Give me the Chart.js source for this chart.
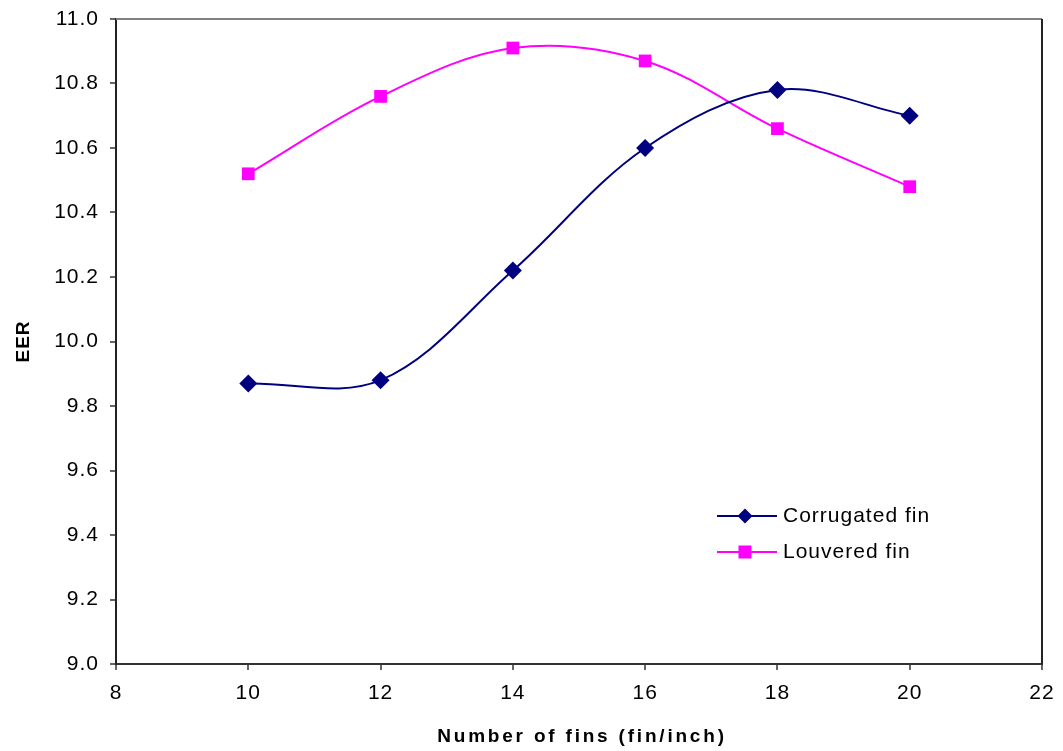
<!DOCTYPE html>
<html>
<head>
<meta charset="utf-8">
<script src="https://cdn.jsdelivr.net/npm/chart.js@4/dist/chart.umd.min.js"></script>
<style>
  html, body { margin: 0; padding: 0; background: #fff; }
  #wrap { width: 1063px; height: 751px; }
</style>
</head>
<body>
<div id="wrap"><canvas id="eerChart" width="1063" height="751"></canvas></div>
<script>
const finsPerInch = [10, 12, 14, 16, 18, 20];
const corrugatedEER = [9.87, 9.88, 10.22, 10.60, 10.78, 10.70];
const louveredEER = [10.52, 10.76, 10.91, 10.87, 10.66, 10.48];
const seriesNames = ['Corrugated fin', 'Louvered fin'];
const xTitle = 'Number of fins (fin/inch)';
const yTitle = 'EER';

const FONT = '"Liberation Sans", Arial, sans-serif';

const toPoints = (ys) => finsPerInch.map((x, i) => ({ x: x, y: ys[i] }));

// slightly loose text spacing for everything the chart writes
const spacing = {
  id: 'spacing',
  beforeDraw(chart) { chart.ctx.letterSpacing = '1px'; },
  afterDraw(chart) { chart.ctx.letterSpacing = '0px'; }
};

// frame, axis titles and the legend box inside the plot
const frameAndLegend = {
  id: 'frameAndLegend',
  afterDatasetsDraw(chart) {
    const { ctx, chartArea: ca } = chart;
    ctx.save();
    ctx.lineWidth = 2;
    ctx.strokeStyle = '#808080';
    ctx.beginPath();
    ctx.moveTo(ca.left, ca.top);
    ctx.lineTo(ca.right, ca.top);
    ctx.stroke();
    ctx.strokeStyle = '#222';
    ctx.beginPath();
    ctx.moveTo(ca.right, ca.top);
    ctx.lineTo(ca.right, ca.bottom);
    ctx.stroke();

    // axis titles
    ctx.fillStyle = '#000';
    ctx.font = 'bold 19px ' + FONT;
    ctx.textAlign = 'center';
    ctx.textBaseline = 'middle';
    ctx.letterSpacing = '2.8px';
    ctx.fillText(xTitle, (ca.left + ca.right) / 2 + 3, 737);
    ctx.save();
    ctx.translate(24, (ca.top + ca.bottom) / 2);
    ctx.rotate(-Math.PI / 2);
    ctx.letterSpacing = '1px';
    ctx.fillText(yTitle, 0, 0);
    ctx.restore();

    // legend
    ctx.letterSpacing = '1px';
    const x0 = ca.left + 601, x1 = ca.left + 661, mx = ca.left + 629;
    const rows = [ca.top + 497, ca.top + 533];
    chart.data.datasets.forEach((ds, i) => {
      const y = rows[i];
      ctx.strokeStyle = ds.borderColor;
      ctx.lineWidth = 2;
      ctx.beginPath();
      ctx.moveTo(x0, y);
      ctx.lineTo(x1, y);
      ctx.stroke();
      ctx.fillStyle = ds.backgroundColor;
      ctx.beginPath();
      if (ds.pointStyle === 'rectRot') {
        const r = 7.5;
        ctx.moveTo(mx, y - r);
        ctx.lineTo(mx + r, y);
        ctx.lineTo(mx, y + r);
        ctx.lineTo(mx - r, y);
        ctx.closePath();
      } else {
        ctx.rect(mx - 6.5, y - 6.5, 13, 13);
      }
      ctx.fill();
      ctx.fillStyle = '#000';
      ctx.font = '21px ' + FONT;
      ctx.textBaseline = 'middle';
      ctx.textAlign = 'left';
      ctx.fillText(ds.label, x1 + 6, y);
    });
    ctx.restore();
  }
};

new Chart(document.getElementById('eerChart'), {
  type: 'line',
  data: {
    datasets: [
      {
        label: seriesNames[0],
        data: toPoints(corrugatedEER),
        borderColor: '#000080',
        backgroundColor: '#000080',
        borderWidth: 2,
        pointStyle: 'rectRot',
        pointRadius: 9,
        pointBorderWidth: 0,
        tension: 0.35
      },
      {
        label: seriesNames[1],
        data: toPoints(louveredEER),
        borderColor: '#FF00FF',
        backgroundColor: '#FF00FF',
        borderWidth: 2,
        pointStyle: 'rect',
        pointRadius: 9,
        pointBorderWidth: 0,
        tension: 0.35
      }
    ]
  },
  plugins: [spacing, frameAndLegend],
  options: {
    responsive: false,
    animation: false,
    layout: { padding: { top: 19, right: 21, left: 0, bottom: 0 } },
    plugins: {
      legend: { display: false },
      tooltip: { enabled: false }
    },
    scales: {
      x: {
        type: 'linear',
        min: 8,
        max: 22,
        afterFit(scale) {
          scale.height = 87;
          scale.paddingLeft = 0;
          scale.paddingRight = 0;
        },
        ticks: {
          stepSize: 2,
          color: '#000',
          padding: 11,
          font: { family: FONT, size: 21 }
        },
        grid: {
          drawOnChartArea: false,
          tickLength: 6,
          tickColor: '#666',
          lineWidth: 2
        },
        border: { color: '#333', width: 2 }
      },
      y: {
        min: 9,
        max: 11,
        afterFit(scale) {
          scale.width = 116;
          scale.paddingTop = 0;
          scale.paddingBottom = 0;
        },
        ticks: {
          stepSize: 0.2,
          color: '#000',
          padding: 11,
          font: { family: FONT, size: 21 },
          callback: (v) => v.toFixed(1)
        },
        grid: {
          drawOnChartArea: false,
          tickLength: 6,
          tickColor: '#666',
          lineWidth: 2
        },
        border: { color: '#222', width: 2 }
      }
    }
  }
});
</script>
</body>
</html>
